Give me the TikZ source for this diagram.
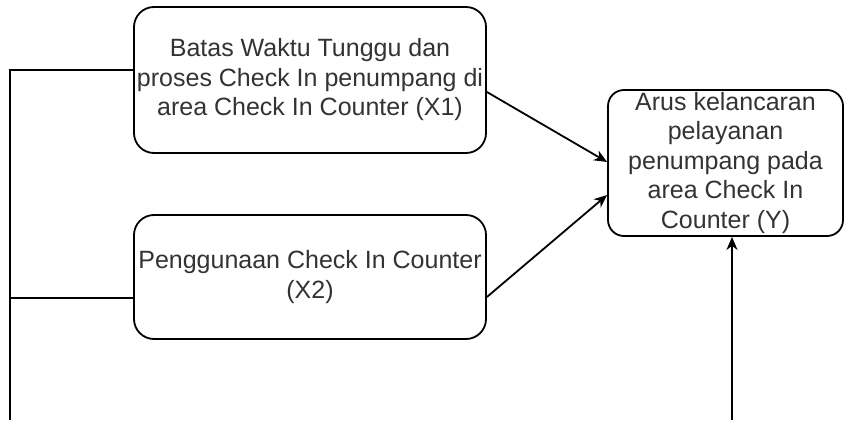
\documentclass[tikz,border=0pt]{standalone}
\usepackage{fontspec}
\setmainfont{Liberation Sans}
\usetikzlibrary{arrows.meta}
\begin{document}
\begin{tikzpicture}[x=1pt,y=-1pt,
  box/.style={draw=black, line width=1.8pt, rounded corners=20pt, align=center,
    inner sep=0pt, text=black!80, font=\fontsize{25}{29.5}\selectfont},
  conn/.style={line width=1.8pt, draw=black},
  arr/.style={conn, -{Stealth[length=13pt,width=11pt,inset=4pt]}}]
\useasboundingbox (0,0) rectangle (845,420);
\node[box, minimum width=352pt, minimum height=146pt] (X1) at (310,80)
  {Batas Waktu Tunggu dan\\proses Check In penumpang di\\area Check In Counter (X1)};
\node[box, minimum width=352pt, minimum height=124pt] (X2) at (310,277)
  {Penggunaan Check In Counter\\(X2)};
\node[box, rounded corners=16pt, minimum width=235pt, minimum height=146pt] (Y) at (725.5,163)
  {Arus kelancaran\\pelayanan\\penumpang pada\\area Check In\\Counter (Y)};
\coordinate (L) at (10,420);
\coordinate (B) at (732,420);
\draw[conn] (X1.west |- 0,70) -- (L |- 0,70) -- (L);
\draw[conn] (X2.west |- 0,298) -- (L |- 0,298);
\draw[arr] (X1.east |- 0,92) -- (Y.west |- 0,162);
\draw[arr] (X2.east |- 0,297) -- (Y.west |- 0,195);
\draw[arr] (B) -- (B |- Y.south);
\end{tikzpicture}
\end{document}
